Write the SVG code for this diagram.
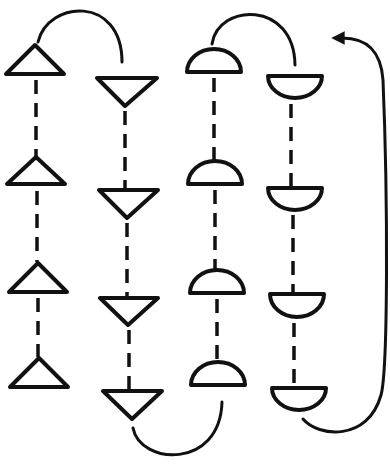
<svg xmlns="http://www.w3.org/2000/svg" width="390" height="468" viewBox="0 0 390 468">
<style>
.s{fill:none;stroke:#111;stroke-width:4;stroke-linejoin:round}
.d{fill:none;stroke:#111;stroke-width:3.5;stroke-dasharray:14 9}
.c{fill:none;stroke:#111;stroke-width:3;stroke-linecap:round}
</style>
<defs>
<marker id="ah" viewBox="0 0 10 10" refX="2" refY="5" markerWidth="4.5" markerHeight="4.5" orient="auto-start-reverse" markerUnits="strokeWidth">
<path d="M0,0 L10,5 L0,10 Z" fill="#111"/>
</marker>
</defs>
<rect width="390" height="468" fill="#fff"/>
<g id="connectors">
<path class="d" d="M36,80 V156"/>
<path class="d" d="M37,191 V262"/>
<path class="d" d="M38,298 V357"/>
<path class="d" d="M125,111 V190"/>
<path class="d" d="M127,223 V298"/>
<path class="d" d="M129,330 V390"/>
<path class="d" d="M214,78 V160"/>
<path class="d" d="M215,190 V269"/>
<path class="d" d="M217,299 V361"/>
<path class="d" d="M291,104 V187"/>
<path class="d" d="M293,215 V292"/>
<path class="d" d="M294,323 V387"/>
<path class="c" d="M38,42 C48,0 122,-5 122,62"/>
<path class="c" d="M212,44 C218,3 294,0 295,65"/>
<path class="c" d="M133,428 C140,465 220,470 222,402"/>
<path class="c" marker-end="url(#ah)" d="M303,419 C318,437 368,442 381,395 C388,370 388,200 383,80 C381,52 368,38 342,38"/>
</g>
<g id="t1"><path class="s" d="M35,45 L6,74 L64,74 Z"/></g>
<g id="t2"><path class="s" d="M36,157 L7,184 L65,184 Z"/></g>
<g id="t3"><path class="s" d="M38,263 L9,292 L67,292 Z"/></g>
<g id="t4"><path class="s" d="M39,358 L10,387 L68,387 Z"/></g>
<g id="v1"><path class="s" d="M97,78 L157,78 L125,106 Z"/></g>
<g id="v2"><path class="s" d="M99,190 L158,190 L127,218 Z"/></g>
<g id="v3"><path class="s" d="M100,298 L158,298 L128,325 Z"/></g>
<g id="v4"><path class="s" d="M103,391 L162,391 L132,419 Z"/></g>
<g id="u1"><path class="s" d="M187,72 A27,23 0 0 1 241,72 Z"/></g>
<g id="u2"><path class="s" d="M188,184 A27,23 0 0 1 242,184 Z"/></g>
<g id="u3"><path class="s" d="M190,293 A27,23 0 0 1 244,293 Z"/></g>
<g id="u4"><path class="s" d="M191,385 A27,23 0 0 1 245,385 Z"/></g>
<g id="n1"><path class="s" d="M268,76 A27,22 0 0 0 322,76 Z"/></g>
<g id="n2"><path class="s" d="M268,188 A27,22 0 0 0 322,188 Z"/></g>
<g id="n3"><path class="s" d="M270,294 A27,23 0 0 0 324,294 Z"/></g>
<g id="n4"><path class="s" d="M272,388 A27,22 0 0 0 326,388 Z"/></g>
</svg>
